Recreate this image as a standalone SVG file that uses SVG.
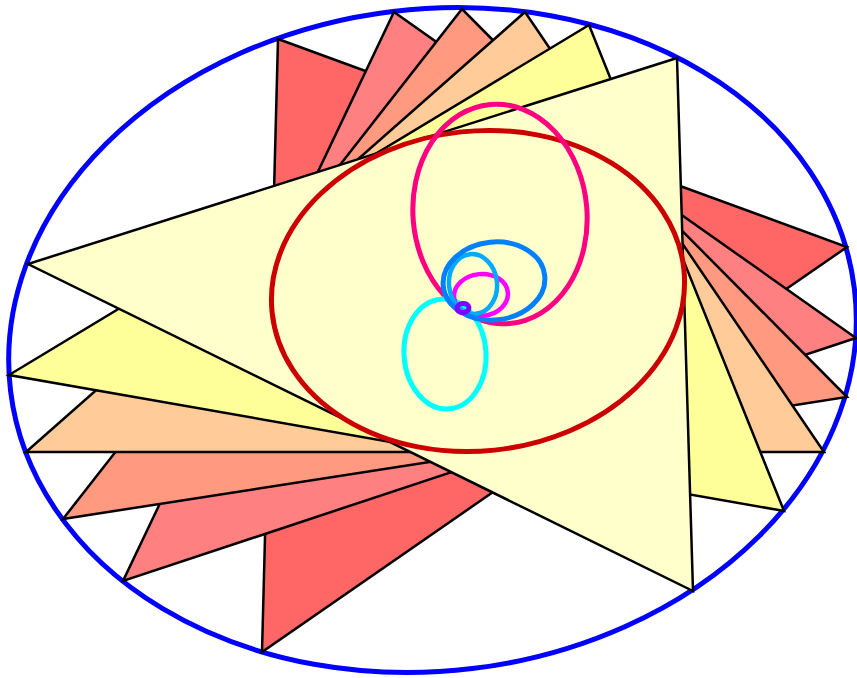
<svg xmlns="http://www.w3.org/2000/svg" width="857" height="678" viewBox="0 0 857 678">
<style>
.tri{stroke:#000;stroke-width:2.5;stroke-linejoin:miter}
.ring{fill:none}
</style>
<rect width="857" height="678" fill="#fff"/>
<ellipse class="ring" cx="432.5" cy="340" rx="425" ry="331" transform="rotate(-6.9 432.5 340)" stroke="#0000ff" stroke-width="5"/>
<g id="triangles">
<polygon class="tri" fill="#ff6666" points="278,39 847,247 262,652"/>
<polygon class="tri" fill="#ff8080" points="394,12 856,338 123,581"/>
<polygon class="tri" fill="#ff9980" points="462,9 847,397 63,519"/>
<polygon class="tri" fill="#ffcc99" points="525,12 824,452 26,452"/>
<polygon class="tri" fill="#ffff99" points="589,25 784,511 9,375"/>
<polygon class="tri" fill="#ffffcc" points="677,58 693,591 28,264"/>
</g>
<g id="ellipses">
<ellipse class="ring" cx="478" cy="291" rx="207" ry="160" transform="rotate(-6 478 291)" stroke="#cc0000" stroke-width="5"/>
<ellipse class="ring" cx="500" cy="214" rx="87" ry="110" transform="rotate(-5 500 214)" stroke="#ff0080" stroke-width="5"/>
<ellipse class="ring" cx="445" cy="354" rx="41" ry="55" transform="rotate(-4 445 354)" stroke="#00ffff" stroke-width="5"/>
<ellipse class="ring" cx="481" cy="295" rx="27" ry="21" transform="rotate(-6 481 295)" stroke="#ff00ff" stroke-width="4.5"/>
<ellipse class="ring" cx="473" cy="284" rx="24" ry="30" transform="rotate(-6 473 284)" stroke="#00aaff" stroke-width="4.5"/>
<ellipse class="ring" cx="494" cy="281" rx="51" ry="39" transform="rotate(-6 494 281)" stroke="#0080ff" stroke-width="5"/>
<ellipse class="ring" cx="463" cy="308" rx="6" ry="4.5" transform="rotate(-6 463 308)" stroke="#8000ff" stroke-width="5"/>
</g>
</svg>
